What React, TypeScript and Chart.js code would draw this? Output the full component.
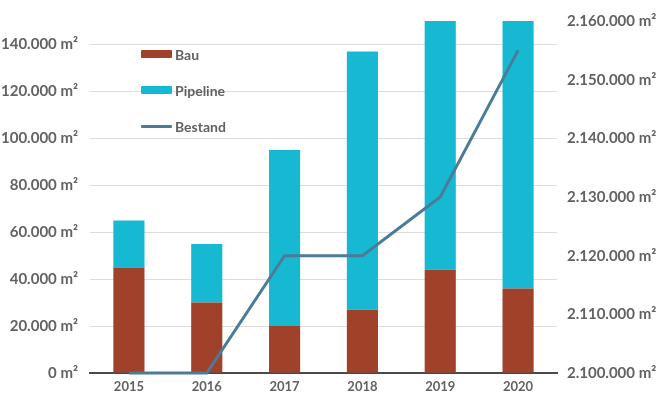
import React, { useEffect, useRef } from "react";
import { Chart, registerables } from "chart.js";

Chart.register(...registerables);

const years = ["2015", "2016", "2017", "2018", "2019", "2020"];
const bau = [45000, 30000, 20000, 27000, 44000, 36000];
const pipeline = [20000, 25000, 75000, 110000, 108000, 116000];
const bestand = [2100000, 2100000, 2120000, 2120000, 2130000, 2155000];

const BAU_COLOR = "#a0412a";
const PIPE_COLOR = "#17b9d2";
const LINE_COLOR = "#4a7b98";
const TEXT_COLOR = "#626262";
const FONT = "Lato";

function fmt(v: number): string {
  const s = Math.round(v).toString();
  return s.replace(/\B(?=(\d{3})+(?!\d))/g, ".") + " m²";
}

export default function App() {
  const ref = useRef<HTMLCanvasElement | null>(null);
  useEffect(() => {
    if (!ref.current) return;
    const chart = new Chart(ref.current, {
      type: "bar",
      data: {
        labels: years,
        datasets: [
          {
            type: "line",
            label: "Bestand",
            data: bestand,
            yAxisID: "y2",
            borderColor: LINE_COLOR,
            borderWidth: 3,
            pointRadius: 0,
            tension: 0,
            order: 0,
            clip: false as any,
          } as any,
          {
            label: "Bau",
            data: bau,
            backgroundColor: BAU_COLOR,
            yAxisID: "y",
            stack: "s",
            order: 1,
            categoryPercentage: 0.8,
            barPercentage: 0.5,
          },
          {
            label: "Pipeline",
            data: pipeline,
            backgroundColor: PIPE_COLOR,
            yAxisID: "y",
            stack: "s",
            order: 1,
            categoryPercentage: 0.8,
            barPercentage: 0.5,
          },
        ],
      },
      options: {
        animation: false,
        responsive: false,
        maintainAspectRatio: false,
        layout: { padding: { top: 17, left: 0, right: 0, bottom: 0 } },
        plugins: { legend: { display: false }, tooltip: { enabled: false } },
        scales: {
          x: {
            stacked: true,
            grid: { display: false, drawTicks: false },
            border: { display: true, color: "#4a4a4a", width: 2 },
            ticks: {
              color: TEXT_COLOR,
              font: { family: FONT, size: 13, weight: "bold" },
              padding: 6,
            },
            afterFit: (s: any) => {
              s.height = 26;
            },
          },
          y: {
            stacked: true,
            position: "left",
            min: 0,
            max: 150000,
            grid: { color: "#dcdcdc", drawTicks: false, lineWidth: 1 },
            border: { display: false },
            ticks: {
              stepSize: 10000,
              autoSkip: false,
              color: TEXT_COLOR,
              font: { family: FONT, size: 15, weight: "bold" },
              padding: 12,
              callback: (v: any) => {
                const n = Number(v);
                if (Math.abs(n / 20000 - Math.round(n / 20000)) > 0.001) return null;
                return fmt(n);
              },
            },
            afterFit: (s: any) => {
              s.width = 120;
            },
          },
          y2: {
            position: "right",
            min: 2100000,
            max: 2160000,
            grid: { display: false, drawTicks: false },
            border: { display: false },
            ticks: {
              stepSize: 10000,
              color: TEXT_COLOR,
              font: { family: FONT, size: 15, weight: "bold" },
              padding: 10,
              callback: (v: any) => fmt(Number(v)),
            },
            afterFit: (s: any) => {
              s.width = 100;
            },
          },
        },
      },
    });
    return () => chart.destroy();
  }, []);

  const legendItem = (top: number, color: string, label: string, thick: number) => (
    <div
      style={{
        position: "absolute",
        left: 141,
        top: top - 10,
        height: 20,
        display: "flex",
        alignItems: "center",
      }}
    >
      <div style={{ width: 31, height: thick, background: color, borderRadius: 1 }} />
      <span
        style={{
          marginLeft: 3,
          fontFamily: FONT,
          fontWeight: 700,
          fontSize: 14,
          color: TEXT_COLOR,
        }}
      >
        {label}
      </span>
    </div>
  );

  return (
    <div
      style={{
        position: "absolute",
        left: 0,
        top: 0,
        width: 657,
        height: 399,
        overflow: "hidden",
        background: "#fff",
      }}
    >
      <canvas
        ref={ref}
        width={687}
        height={399}
        style={{ position: "absolute", left: -30, top: 0, width: 687, height: 399 }}
      />
      {legendItem(54, BAU_COLOR, "Bau", 8)}
      {legendItem(90, PIPE_COLOR, "Pipeline", 8)}
      {legendItem(126, LINE_COLOR, "Bestand", 3)}
    </div>
  );
}
